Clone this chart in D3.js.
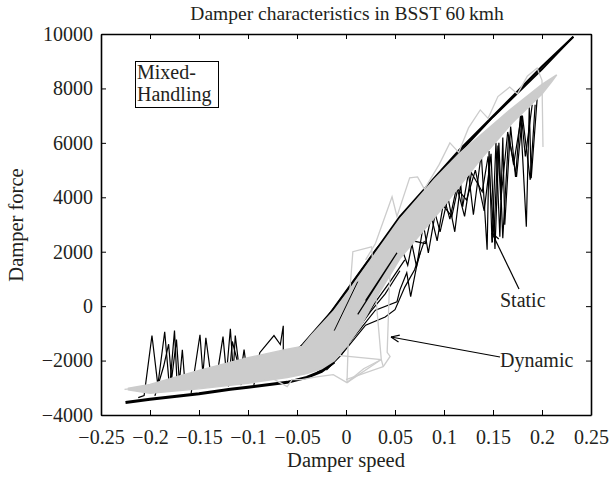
<!DOCTYPE html>
<html>
<head>
<meta charset="utf-8">
<script src="https://cdn.jsdelivr.net/npm/d3@7"></script>
<style>
  body { margin: 0; background: #fff; }
  svg text { font-family: "Liberation Serif", "Times New Roman", serif; fill: #231f20; }
</style>
</head>
<body>
<svg id="chart" width="612" height="481"></svg>
<script>
// tick values
const xTicks = [-0.25, -0.2, -0.15, -0.1, -0.05, 0, 0.05, 0.1, 0.15, 0.2, 0.25]
const yTicks = [-4000, -2000, 0, 2000, 4000, 6000, 8000, 10000]

// static damper (black) : main loop branches, [speed, force]
const staticLowerBranch = [[-0.225, -3540], [-0.2, -3420], [-0.15, -3220], [-0.118, -3050], [-0.1, -2980], [-0.06, -2800], [-0.04, -2620], [-0.025, -2400], [-0.012, -2050]]
const staticKneeA = [[-0.03, -2450], [-0.015, -2100], [0.0, -1400], [0.015, -700], [0.03, 150], [0.045, 900], [0.06, 1700]]
const staticKneeB = [[-0.02, -2350], [-0.005, -1800], [0.01, -950], [0.025, -200], [0.04, 450], [0.055, 1300]]
const staticUpperBranch = [[-0.06, -1900], [-0.048, -1550], [-0.044, -1414], [-0.013, -130], [0.002, 605], [0.055, 3284], [0.116, 5743], [0.17, 7700], [0.2, 8800], [0.232, 9900]]
const staticUpperBranch2 = [[-0.04, -1300], [-0.02, -450], [0.03, 2050], [0.09, 4650], [0.15, 6950], [0.2, 8700], [0.232, 9900]]

// static noise spikes, low speed side
const staticSpikesLeftA = [[-0.212, -3360], [-0.206, -3285], [-0.198, -1080], [-0.192, -2900], [-0.185, -940], [-0.18, -3050], [-0.175, -900], [-0.172, -3100]]
const staticSpikesLeftB = [[-0.195, -3300], [-0.186, -2200], [-0.181, -1400], [-0.178, -2700], [-0.173, -1230], [-0.17, -2800], [-0.167, -1600], [-0.164, -3000]]
const staticSpikesLeftC = [[-0.158, -3200], [-0.149, -1050], [-0.146, -2500], [-0.143, -1160], [-0.137, -2800], [-0.131, -2400], [-0.1255, -1120], [-0.122, -2500], [-0.118, -830], [-0.115, -2400], [-0.113, -1080], [-0.108, -2600], [-0.104, -1600], [-0.1, -2700]]
const staticSpikesLeftD = [[-0.094, -2900], [-0.088, -1710], [-0.0735, -1080], [-0.067, -1410], [-0.064, -720], [-0.064, -1600], [-0.06, -2500]]
const staticSpikesLeftE = [[-0.12, -2950], [-0.116, -1300], [-0.111, -2000], [-0.107, -2900]]

// static noise spikes, high speed side
const staticSpikesRightA = [[0.066, 2500], [0.072, 1450], [0.079, 3000], [0.084, 1960], [0.091, 3400], [0.096, 2730], [0.104, 4000], [0.111, 2733], [0.117, 4500], [0.119, 3650], [0.125, 4900], [0.13, 3357], [0.138, 5600], [0.144, 2072], [0.146, 5700], [0.149, 2330], [0.153, 6000], [0.157, 2550], [0.16, 6200], [0.162, 2990], [0.168, 6600], [0.173, 4750], [0.178, 7000], [0.184, 2917], [0.187, 7300], [0.189, 4700], [0.195, 7600]]
const staticSpikesRightB = [[0.1, 4000], [0.106, 3200], [0.113, 4400], [0.121, 3300], [0.128, 4900], [0.139, 4200], [0.145, 5500], [0.151, 2600], [0.155, 5900], [0.158, 3900], [0.165, 6400], [0.174, 4752], [0.18, 7000], [0.188, 4642], [0.193, 7400]]
const staticSpikesRightC = [[0.058, 2000], [0.063, 1500], [0.068, 2400], [0.081, 2300], [0.087, 3300], [0.093, 2400], [0.099, 3700], [0.108, 3300], [0.114, 4300], [0.123, 3900], [0.132, 5000], [0.141, 3500], [0.148, 5600], [0.152, 2100], [0.156, 6000], [0.16, 2500], [0.166, 6300], [0.171, 5200], [0.179, 7000], [0.183, 5500], [0.19, 7400]]
const staticMidA = [[0.0, -1500], [0.03, -150], [0.052, 160], [0.055, 600], [0.062, 1230], [0.066, 350], [0.072, 1450], [0.076, 2000]]
const staticMidB = [[-0.005, -1800], [0.02, -700], [0.04, -400], [0.05, -130], [0.06, 700], [0.07, 1340], [0.08, 2400]]
const staticSliverA = [[0.012, -300], [0.052, 1960], [0.02, 200]]
const staticSliverB = [[-0.012, -900], [0.012, 900]]

// dynamic damper (grey) : band envelope
const dynamicUpperEdge = [[-0.222, -3020], [-0.2, -2880], [-0.15, -2360], [-0.1, -1900], [-0.06, -1580], [-0.045, -1480], [-0.035, -1050], [-0.013, -200], [0.002, 520], [0.055, 3200], [0.09, 4650], [0.116, 5620], [0.167, 7200], [0.2, 8150], [0.215, 8500]]
const dynamicLowerEdge = [[0.21, 8250], [0.2, 7800], [0.17, 6750], [0.137, 5376], [0.096, 3500], [0.055, 1750], [0.03, 250], [0.014, -800], [0.0, -1500], [-0.012, -2000], [-0.025, -2300], [-0.04, -2480], [-0.06, -2620], [-0.1, -2830], [-0.15, -3040], [-0.2, -3200], [-0.222, -3080]]

// dynamic outliers
const dynamicTopZigzag = [[0.02, 1700], [0.03, 2300], [0.047, 4020], [0.052, 3300], [0.065, 4715], [0.073, 4750], [0.08, 4300], [0.095, 5200], [0.106, 6000], [0.115, 5650], [0.125, 6550], [0.137, 7210], [0.145, 6900], [0.155, 7700], [0.167, 8050], [0.175, 7800], [0.185, 8450], [0.195, 8750], [0.2, 8300], [0.201, 5850]]
const dynamicLoopA = [[0.001, -2810], [0.004, 600], [0.007, 2000], [0.026, 2180], [0.036, -1960], [0.001, -2810]]
const dynamicLoopB = [[-0.016, -1780], [0.036, -1960], [0.038, -2220], [0.0, -2700]]
const dynamicLoopC = [[0.045, 1450], [0.042, -1700], [0.045, -1850], [0.038, -2220]]
const dynamicLoopD = [[-0.078, -2600], [-0.06, -2955], [-0.055, -2700], [-0.045, -2700], [-0.03, -2600], [-0.013, -2515], [0.001, -2810], [0.018, -2300], [0.036, -1960]]
const dynamicTail = [[-0.226, -3060], [-0.21, -3000], [-0.2, -3120]]

const svg = d3.select('#chart')
const margin = { top: 34, right: 21, bottom: 66, left: 101 }
const width = 612
const height = 481

const x = d3.scaleLinear().domain([-0.25, 0.25]).range([margin.left, width - margin.right])
const y = d3.scaleLinear().domain([-4000, 10000]).range([height - margin.bottom, margin.top])

const line = d3.line().x(d => x(d[0])).y(d => y(d[1]))
const fmt = d => String(d).replace('-', '\u2212')

const plot = svg.append('g')

function drawLine (data, color, w) {
  plot.append('path')
    .datum(data)
    .attr('d', line)
    .attr('fill', 'none')
    .attr('stroke', color)
    .attr('stroke-width', w)
    .attr('stroke-linejoin', 'miter')
    .attr('stroke-miterlimit', 4)
}

const black = '#000'
const grey = '#cccccc'

// static lines first
drawLine(staticLowerBranch, black, 3)
drawLine(staticUpperBranch, black, 2.3)
drawLine(staticUpperBranch2, black, 1.8)
;[staticKneeA, staticKneeB, staticSpikesLeftA, staticSpikesLeftB, staticSpikesLeftC, staticSpikesLeftD, staticSpikesLeftE,
  staticSpikesRightA, staticSpikesRightB, staticSpikesRightC, staticMidA, staticMidB].forEach(d => drawLine(d, black, 1.2))

// dynamic band on top
plot.append('path')
  .datum(dynamicUpperEdge.concat(dynamicLowerEdge))
  .attr('d', d => line(d) + 'Z')
  .attr('fill', grey)
  .attr('stroke', grey)
  .attr('stroke-width', 1.5)

;[dynamicTopZigzag, dynamicLoopA, dynamicLoopB, dynamicLoopC, dynamicLoopD, dynamicTail]
  .forEach(d => drawLine(d, grey, 1.3))

drawLine(staticSliverA, black, 1.2)
drawLine(staticSliverB, black, 1)

// axes
const axisBottom = d3.axisBottom(x).tickValues(xTicks).tickFormat(fmt).tickSizeInner(-5).tickSizeOuter(0).tickPadding(15)
const axisTop = d3.axisTop(x).tickValues(xTicks).tickFormat('').tickSizeInner(-5).tickSizeOuter(0)
const axisLeft = d3.axisLeft(y).tickValues(yTicks).tickFormat(fmt).tickSizeInner(-5).tickSizeOuter(0).tickPadding(8)
const axisRight = d3.axisRight(y).tickValues(yTicks).tickFormat('').tickSizeInner(-5).tickSizeOuter(0)

const axes = [
  [axisBottom, `translate(0,${height - margin.bottom})`],
  [axisTop, `translate(0,${margin.top})`],
  [axisLeft, `translate(${margin.left},0)`],
  [axisRight, `translate(${width - margin.right},0)`]
]
axes.forEach(([ax, tr]) => {
  const g = svg.append('g').attr('transform', tr).call(ax)
  g.select('.domain').attr('stroke', '#000').attr('stroke-width', 1.6)
  g.selectAll('.tick line').attr('stroke', '#000').attr('stroke-width', 1)
  g.selectAll('.tick text')
    .attr('fill', '#231f20')
    .style('font-family', '"Liberation Serif", serif')
    .style('font-size', '20px')
})

// title and axis labels
svg.append('text')
  .attr('x', 347).attr('y', 20)
  .attr('text-anchor', 'middle')
  .style('font-size', '19.5px')
  .text('Damper characteristics in BSST 60\u2009kmh')

svg.append('text')
  .attr('x', 346).attr('y', 467)
  .attr('text-anchor', 'middle')
  .style('font-size', '20.5px')
  .text('Damper speed')

svg.append('text')
  .attr('transform', 'translate(23,225) rotate(-90)')
  .attr('text-anchor', 'middle')
  .style('font-size', '20.5px')
  .text('Damper force')

// Mixed-Handling box
svg.append('rect')
  .attr('x', 135.5).attr('y', 61.5).attr('width', 83).attr('height', 46)
  .attr('fill', '#fff').attr('stroke', '#000').attr('stroke-width', 1)
svg.append('text').attr('x', 137).attr('y', 79).style('font-size', '20px').text('Mixed-')
svg.append('text').attr('x', 137).attr('y', 101).style('font-size', '20px').text('Handling')

// annotations
function arrow (x1, y1, x2, y2) {
  svg.append('line')
    .attr('x1', x1).attr('y1', y1).attr('x2', x2).attr('y2', y2)
    .attr('stroke', '#000').attr('stroke-width', 1.2)
  const a = Math.atan2(y1 - y2, x1 - x2)
  const len = 9
  ;[-0.4, 0.4].forEach(o => {
    svg.append('line')
      .attr('x1', x2).attr('y1', y2)
      .attr('x2', x2 + len * Math.cos(a + o)).attr('y2', y2 + len * Math.sin(a + o))
      .attr('stroke', '#000').attr('stroke-width', 1.2)
  })
}

arrow(519, 289, 492, 233)
svg.append('text').attr('x', 500).attr('y', 307).style('font-size', '20px').text('Static')

arrow(500, 357, 391, 337)
svg.append('text').attr('x', 500).attr('y', 367).style('font-size', '20px').text('Dynamic')
</script>
</body>
</html>
